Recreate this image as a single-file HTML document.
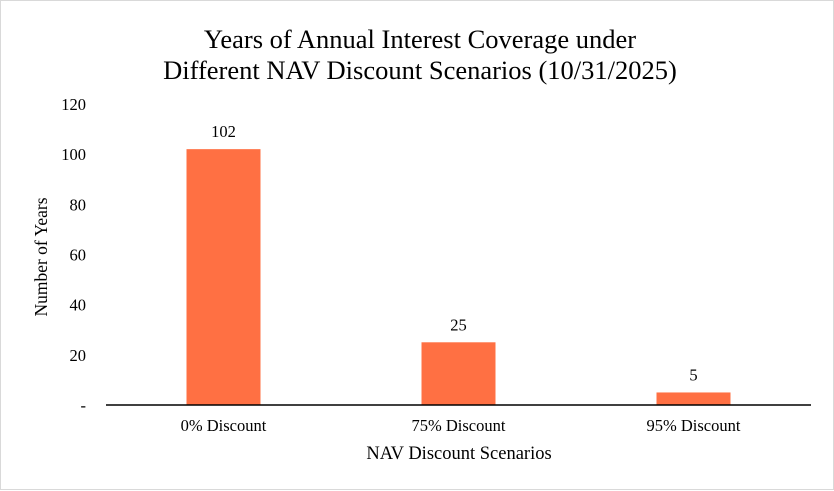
<!DOCTYPE html>
<html><head><meta charset="utf-8"><style>
body{margin:0;background:#fff}
#wrap{position:relative;width:832px;height:488px;border:1px solid #d9d9d9;font-family:"Liberation Serif",serif;color:#000}
svg{position:absolute;left:0;top:0}
</style></head><body>
<div id="wrap">
<svg id="c" width="834" height="490">
<text x="419" y="47" text-anchor="middle" font-size="26.5">Years of Annual Interest Coverage under</text>
<text x="419" y="78" text-anchor="middle" font-size="26.5">Different NAV Discount Scenarios (10/31/2025)</text>
<text x="458" y="458" text-anchor="middle" font-size="18.5">NAV Discount Scenarios</text>
<text transform="translate(46,256) rotate(-90)" text-anchor="middle" font-size="17.5">Number of Years</text>
</svg>
</div>
<script>
const categories=["0% Discount","75% Discount","95% Discount"];
const values=[102,25,5];
const tickValues=[0,20,40,60,80,100,120];
const tickLabels=["-","20","40","60","80","100","120"];
const ns="http://www.w3.org/2000/svg";
const svg=document.getElementById('c');
const x0=105,x1=810,y0=404,ymax=120,ytop=103;
const y=v=>y0-(v/ymax)*(y0-ytop);
const band=(x1-x0)/categories.length;
const xc=i=>x0+band*(i+0.5);
function mk(t,a){const e=document.createElementNS(ns,t);for(const k in a)e.setAttribute(k,a[k]);svg.appendChild(e);return e;}
tickValues.forEach((v,i)=>{const t=mk('text',{x:85,y:y(v)+6,'text-anchor':'end','font-size':16.5});t.textContent=tickLabels[i];

});
values.forEach((v,i)=>{
const r=mk('rect',{x:xc(i)-37,y:y(v),width:74,height:y0-y(v),fill:'#FF7043'});


const l=mk('text',{x:xc(i),y:y(v)-12,'text-anchor':'middle','font-size':16.5});l.textContent=v;


const c=mk('text',{x:xc(i),y:430,'text-anchor':'middle','font-size':16.5});c.textContent=categories[i];


});
const ax=mk('line',{x1:x0,x2:x1,y1:y0,y2:y0,stroke:'#000','stroke-width':1.5});


</script>
</body></html>
